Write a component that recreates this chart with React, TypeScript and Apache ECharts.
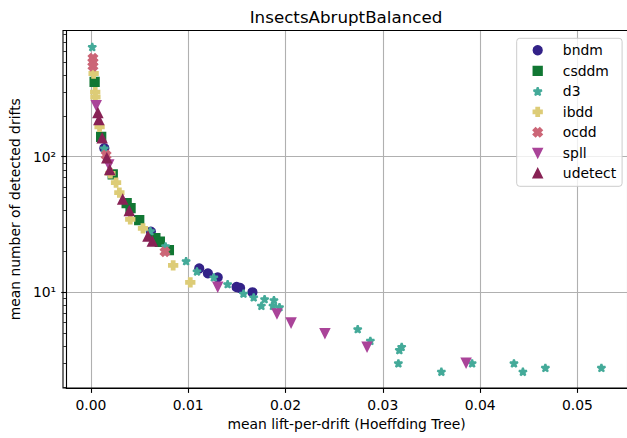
import React, { useEffect, useRef } from 'react';
import * as echarts from 'echarts';

const TITLE = 'InsectsAbruptBalanced';
const X_NAME = 'mean lift-per-drift (Hoeffding Tree)';
const Y_NAME = 'mean number of detected drifts';

const seriesNames = ['bndm', 'csddm', 'd3', 'ibdd', 'ocdd', 'spll', 'udetect'];
const colors = ['#332288', '#117733', '#44AA99', '#DDCC77', '#CC6677', '#AA4499', '#882255'];

const bndmX = [0.001375, 0.00616, 0.01113, 0.01202, 0.01303, 0.01497, 0.01533, 0.0166];
const bndmY = [115.7, 28.05, 14.98, 13.8, 12.9, 10.94, 10.76, 10.0];

const csddmX = [0.000377, 0.00105, 0.00224, 0.00367, 0.00407, 0.00496, 0.00662, 0.00708, 0.00801];
const csddmY = [356.6, 140.2, 74.1, 45.5, 41.8, 34.1, 25.1, 23.6, 20.5];

const d3X = [0.000132, 0.001375, 0.00611, 0.00767, 0.00978, 0.0109, 0.01263, 0.01405, 0.01568, 0.01673,
  0.01785, 0.01752, 0.01881, 0.01871, 0.01938, 0.02742, 0.02872, 0.03194, 0.0317, 0.0316,
  0.03602, 0.03918, 0.04348, 0.0444, 0.04671, 0.05247];
const d3Y = [645.7, 115.1, 28.3, 21.9, 17.0, 14.28, 12.9, 11.51, 9.8, 9.19,
  8.93, 7.97, 8.78, 7.97, 7.79, 5.36, 4.4, 3.97, 3.76, 3.0,
  2.6, 3.0, 3.0, 2.6, 2.78, 2.78];

const ibddX = [0.000275, 0.000438, 0.000458, 0.000886, 0.002, 0.00258, 0.00292, 0.00404, 0.00535, 0.00845, 0.01021];
const ibddY = [411, 299, 275, 166, 75.3, 64.4, 54.4, 34.5, 29.6, 15.8, 11.85];

const ocddX = [0.000204, 0.000204, 0.000204, 0.00156, 0.00761];
const ocddY = [533, 498, 465, 102.8, 19.9];

const spllX = [0.00054, 0.00183, 0.01303, 0.01912, 0.02057, 0.02405, 0.02838, 0.03856];
const spllY = [239.9, 87.7, 11.0, 7.0, 5.99, 5.01, 3.97, 3.03];

const udetectX = [0.000713, 0.000815, 0.00115, 0.00163, 0.00193, 0.00326, 0.00394, 0.00586, 0.00631];
const udetectY = [209.5, 186.3, 136.4, 97.2, 79.7, 48.3, 39.7, 25.8, 23.7];

const xTickFormat = (v: number) => v.toFixed(2);
const yMinorTicks = [2, 3, 4, 5, 6, 7, 8, 9, 20, 30, 40, 50, 60, 70, 80, 90, 200, 300, 400, 500, 600, 700, 800];

const STAR = 'path://M0,-1L0.2245,-0.309L0.951,-0.309L0.363,0.118L0.588,0.809L0,0.382L-0.588,0.809L-0.363,0.118L-0.951,-0.309L-0.2245,-0.309Z';
const PLUS = 'path://M-1,-3L1,-3L1,-1L3,-1L3,1L1,1L1,3L-1,3L-1,1L-3,1L-3,-1L-1,-1Z';
const XFILL = 'path://M-1,-2L0,-1L1,-2L2,-1L1,0L2,1L1,2L0,1L-1,2L-2,1L-1,0L-2,-1Z';
const TRI_DOWN = 'path://M-1,-1L1,-1L0,1Z';
const TRI_UP = 'path://M0,-1L1,1L-1,1Z';
const SQUARE = 'path://M0,0L1,0L1,1L0,1Z';

const symbols = ['circle', SQUARE, STAR, PLUS, XFILL, TRI_DOWN, TRI_UP];
const symbolSizes: any[] = [8.3, 8.3, [7.9, 7.5], 8.3, 8.3, 8.3, 8.3];
const joins = ['round', 'miter', 'bevel', 'miter', 'miter', 'miter', 'miter'];

const seriesX = [bndmX, csddmX, d3X, ibddX, ocddX, spllX, udetectX];
const seriesY = [bndmY, csddmY, d3Y, ibddY, ocddY, spllY, udetectY];

const FONT = 'DejaVu Sans';

export default function App() {
  const ref = useRef<HTMLDivElement>(null);
  useEffect(() => {
    if (!ref.current) return;
    const chart = echarts.init(ref.current, undefined, { renderer: 'svg' });
    const gridLeft = 63, gridTop = 30.5, gridW = 566.6, gridH = 357.5;
    const legendIcon = 8.3;
    const option: any = {
      animation: false,
      backgroundColor: '#ffffff',
      textStyle: { fontFamily: FONT },
      grid: { left: gridLeft, top: gridTop, width: gridW, height: gridH, containLabel: false },
      graphic: [
        {
          type: 'text', x: 346, y: 17, z: 100,
          style: { text: TITLE, fontFamily: FONT, fontSize: 16.7, fill: '#000', textAlign: 'center', textVerticalAlign: 'middle' },
        },
        {
          type: 'rect', z: 100, silent: true,
          shape: { x: gridLeft, y: gridTop, width: gridW, height: gridH },
          style: { fill: 'none', stroke: '#000', lineWidth: 1.1 },
        },
      ],
      legend: {
        orient: 'vertical',
        left: 516.7,
        top: 38.3,
        padding: [5, 6, 6, 536.7 - legendIcon / 2 - 516.7],
        itemWidth: legendIcon,
        itemHeight: legendIcon,
        itemGap: 6.5,
        symbolKeepAspect: true,
        backgroundColor: 'rgba(255,255,255,0.8)',
        borderColor: '#cccccc',
        borderWidth: 1,
        borderRadius: 3,
        textStyle: { fontFamily: FONT, fontSize: 13.9, color: '#000', lineHeight: 14, padding: [0, 0, 0, 16] },
        data: seriesNames.map((name, i) => ({ name, icon: symbols[i] })),
      },
      xAxis: [
        {
          type: 'value',
          min: -0.00255,
          max: 0.0551,
          minInterval: 0.01,
          maxInterval: 0.01,
          name: X_NAME,
          nameLocation: 'middle',
          nameGap: 29,
          nameTextStyle: { fontFamily: FONT, fontSize: 13.9, color: '#000' },
          axisLine: { show: true, onZero: false, lineStyle: { color: '#000', width: 1.1 } },
          axisTick: { show: true, length: 4.9, lineStyle: { color: '#000', width: 1.1 } },
          axisLabel: { formatter: xTickFormat, showMinLabel: false, showMaxLabel: false, margin: 10, fontFamily: FONT, fontSize: 13.9, color: '#000' },
          splitLine: { show: true, lineStyle: { color: '#b0b0b0', width: 1.1 } },
        },
      ],
      yAxis: [
        {
          type: 'log',
          logBase: 10,
          min: 1.97,
          max: 853,
          name: Y_NAME,
          nameLocation: 'middle',
          nameGap: 39,
          nameTextStyle: { fontFamily: FONT, fontSize: 13.9, color: '#000' },
          axisLine: { show: true, onZero: false, lineStyle: { color: '#000', width: 1.1 } },
          axisTick: { show: true, length: 4.9, lineStyle: { color: '#000', width: 1.1 } },
          axisLabel: {
            formatter: (v: number) => (Math.abs(v - 10) < 1e-6 ? '10¹' : Math.abs(v - 100) < 1e-6 ? '10²' : ''),
            showMinLabel: false, showMaxLabel: false, margin: 10, fontFamily: FONT, fontSize: 13.9, color: '#000',
          },
          splitLine: { show: true, lineStyle: { color: '#b0b0b0', width: 1.1 } },
        },
        {
          type: 'log',
          logBase: 10,
          min: 1.97,
          max: 853,
          position: 'left',
          axisLine: { show: false, onZero: false },
          axisTick: { show: true, length: 2.8, customValues: yMinorTicks, lineStyle: { color: '#000', width: 0.8 } },
          axisLabel: { show: false },
          splitLine: { show: false },
        },
      ],
      series: seriesNames.map((name, i) => ({
        name,
        type: 'scatter',
        xAxisIndex: 0,
        yAxisIndex: 0,
        symbol: symbols[i],
        symbolSize: symbolSizes[i],
        itemStyle: { color: colors[i], borderColor: colors[i], borderWidth: 2, borderJoin: joins[i], opacity: 1 },
        emphasis: { disabled: true },
        data: seriesX[i].map((x, j) => [x, seriesY[i][j]]),
      })),
    };
    chart.setOption(option);
    return () => chart.dispose();
  }, []);
  return <div ref={ref} style={{ position: 'absolute', left: 0, top: 0, width: 627, height: 438 }} />;
}
